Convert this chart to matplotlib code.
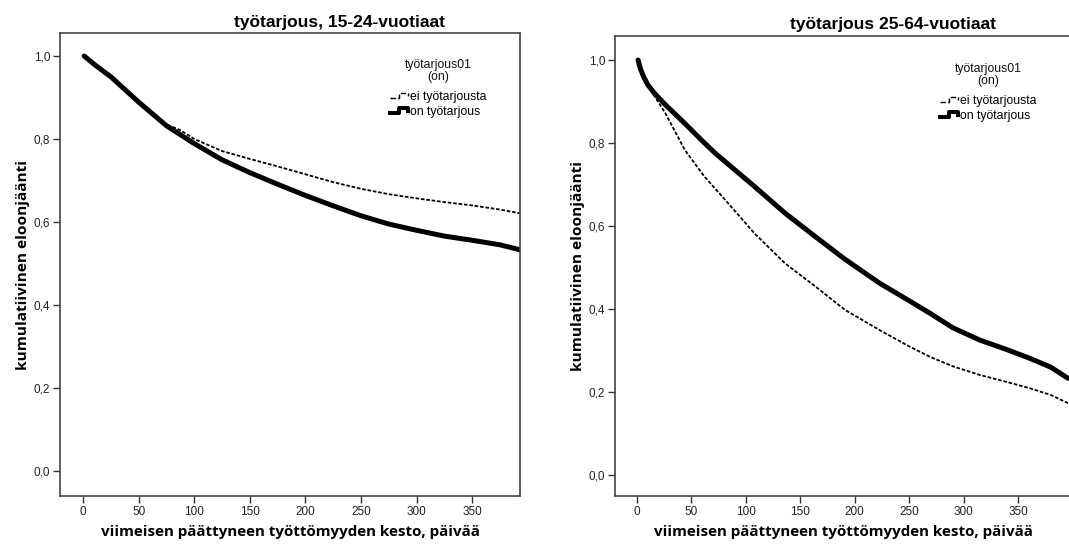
import matplotlib
matplotlib.use("Agg")
import matplotlib.pyplot as plt
from matplotlib.legend_handler import HandlerBase
from matplotlib.lines import Line2D
from matplotlib.ticker import FuncFormatter

# 15-24-vuotiaat
young_days_on = [1, 10, 25, 50, 75, 100, 125, 150, 175, 200, 225, 250, 275, 300, 325, 350, 375, 393]
young_on = [1.0, 0.98, 0.95, 0.889, 0.832, 0.789, 0.750, 0.719, 0.691, 0.664, 0.639, 0.615, 0.595, 0.580, 0.566, 0.556, 0.545, 0.533]
young_days_ei = [1, 10, 25, 50, 75, 87, 100, 125, 150, 175, 200, 225, 250, 275, 300, 325, 350, 375, 393]
young_ei = [1.0, 0.98, 0.95, 0.889, 0.835, 0.822, 0.800, 0.771, 0.752, 0.734, 0.715, 0.696, 0.680, 0.667, 0.657, 0.648, 0.640, 0.630, 0.621]

# 25-64-vuotiaat
old_days_on = [1, 3, 6, 10, 16, 25, 44, 60, 72, 90, 108, 136, 164, 191, 223, 250, 269, 290, 315, 340, 361, 380, 396]
old_on = [1.0, 0.98, 0.96, 0.94, 0.92, 0.895, 0.847, 0.805, 0.775, 0.735, 0.695, 0.631, 0.574, 0.520, 0.462, 0.420, 0.390, 0.355, 0.325, 0.302, 0.281, 0.260, 0.233]
old_days_ei = [1, 3, 6, 10, 12, 26, 44, 62, 81, 108, 136, 164, 191, 223, 250, 269, 290, 315, 340, 361, 380, 396]
old_ei = [1.0, 0.98, 0.96, 0.94, 0.93, 0.872, 0.783, 0.719, 0.663, 0.582, 0.510, 0.454, 0.398, 0.349, 0.310, 0.285, 0.262, 0.241, 0.224, 0.209, 0.193, 0.173]

titles = ["työtarjous, 15-24-vuotiaat", "työtarjous 25-64-vuotiaat"]
labels = ["ei työtarjousta", "on työtarjous"]
legend_title = "työtarjous01\n(on)"
xlabel = "viimeisen päättyneen työttömyyden kesto, päivää"
ylabel = "kumulatiivinen eloonjäänti"
xticks = [0, 50, 100, 150, 200, 250, 300, 350]
yticks = [0.0, 0.2, 0.4, 0.6, 0.8, 1.0]

plt.rcParams['font.family'] = ['Liberation Sans', 'DejaVu Sans']


class StepHandler(HandlerBase):
    # SPSS-style little step shape in the legend
    def create_artists(self, legend, orig_handle, xdescent, ydescent, width, height, fontsize, trans):
        lo = height * 0.2 - ydescent
        hi = height * 0.8 - ydescent
        xs = [-xdescent, -xdescent + 0.45 * width, -xdescent + 0.45 * width,
              -xdescent + 0.9 * width, -xdescent + 0.9 * width]
        ys = [lo, lo, hi, hi, lo + 0.25 * height]
        line = Line2D(xs, ys, color=orig_handle.get_color(),
                      linewidth=orig_handle.get_linewidth() * 0.8,
                      linestyle=orig_handle.get_linestyle(), transform=trans)
        return [line]


W, H = 1069, 547
fig = plt.figure(figsize=(W / 100, H / 100), dpi=100)

panels = [
    dict(rect=(60, 33, 520, 496), xlim=(-20.7, 393), ylim=(-0.0602, 1.0554),
         on=(young_days_on, young_on), ei=(young_days_ei, young_ei),
         title_xy=(340, 23), legtitle_xy=(438, 71), leg_xy=(390, 91)),
    dict(rect=(615, 36, 1072.4, 496), xlim=(-20.2, 400), ylim=(-0.0506, 1.0578),
         on=(old_days_on, old_on), ei=(old_days_ei, old_ei),
         title_xy=(893, 25), legtitle_xy=(988, 75), leg_xy=(940, 95)),
]

fmt = FuncFormatter(lambda v, p: f"{v:.1f}".replace(".", ","))

for i, p in enumerate(panels):
    x0, y0, x1, y1 = p["rect"]
    ax = fig.add_axes([x0 / W, 1 - y1 / H, (x1 - x0) / W, (y1 - y0) / H])
    l_ei, = ax.plot(*p["ei"], color="black", linewidth=1.3, linestyle=(0, (2, 1)), label=labels[0])
    l_on, = ax.plot(*p["on"], color="black", linewidth=3.6, solid_capstyle="round", label=labels[1])
    ax.set_xlim(*p["xlim"])
    ax.set_ylim(*p["ylim"])
    ax.set_xticks(xticks)
    ax.set_yticks(yticks)
    ax.yaxis.set_major_formatter(fmt)
    ax.tick_params(direction="out", length=5, width=1, color="#333333", labelsize=8.5,
                   labelcolor="#222222", pad=2)
    for s in ax.spines.values():
        s.set_color("#444444")
        s.set_linewidth(1.2)
    ax.set_xlabel(xlabel, family="Open Sans", fontweight="bold", fontsize=10.9, labelpad=5)
    ax.set_ylabel(ylabel, family="Open Sans", fontweight="bold", fontsize=11.1, labelpad=3)
    tx, ty = p["title_xy"]
    fig.text(tx / W, 1 - ty / H, titles[i], ha="center", va="center",
             fontsize=12.5, fontweight="bold")
    gx, gy = p["legtitle_xy"]
    fig.text(gx / W, 1 - gy / H, legend_title, ha="center", va="center",
             fontsize=8.8, linespacing=1.0, color="#111111")
    lx, ly = p["leg_xy"]
    ax.legend(handles=[l_ei, l_on], loc="upper left",
              bbox_to_anchor=(lx / W, 1 - ly / H), bbox_transform=fig.transFigure,
              frameon=False, fontsize=8.8, handlelength=1.6,
              handletextpad=0.05, labelspacing=0.25, borderpad=0, borderaxespad=0,
              handler_map={Line2D: StepHandler()})

fig.savefig("out.png", dpi=100)
